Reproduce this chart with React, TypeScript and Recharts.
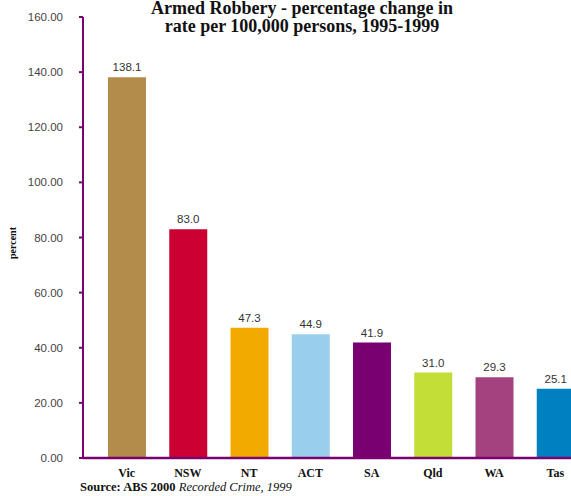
import React from "react";
import { BarChart, Bar, XAxis, YAxis, Cell, LabelList } from "recharts";

// Armed robbery: percentage change in rate per 100,000 persons, 1995-1999
const states = ["Vic", "NSW", "NT", "ACT", "SA", "Qld", "WA", "Tas"];
const changes = [138.1, 83.0, 47.3, 44.9, 41.9, 31.0, 29.3, 25.1];
const barColors = ["#B38B4A", "#CC0033", "#F2AA00", "#99CFEC", "#790071", "#C4DE38", "#A3427E", "#0080C0"];
const yTicks = [0, 20, 40, 60, 80, 100, 120, 140, 160];

const data = states.map((state, i) => ({ state, change: changes[i] }));

const AXIS = "#7A0070";
const SERIF = "'Liberation Serif', 'DejaVu Serif', serif";
const SANS = "'Liberation Sans', Arial, sans-serif";

const StateTick = (props: any) => {
  const { x, y, payload } = props;
  return (
    <text x={x} y={y + 11} textAnchor="middle" fontFamily={SERIF} fontWeight="bold" fontSize={12} fill="#111">
      {payload.value}
    </text>
  );
};

export default function App() {
  return (
    <div style={{ position: "absolute", left: 0, top: 0, width: 571, height: 496, overflow: "hidden", background: "#fff" }}>
      <BarChart
        width={600}
        height={496}
        data={data}
        margin={{ top: 17, right: 14, bottom: 8, left: 0 }}
      >
        <text x={302} y={14} textAnchor="middle" fontFamily={SERIF} fontWeight="bold" fontSize={18} fill="#111">
          Armed Robbery - percentage change in
        </text>
        <text x={302} y={32} textAnchor="middle" fontFamily={SERIF} fontWeight="bold" fontSize={18} fill="#111">
          rate per 100,000 persons, 1995-1999
        </text>
        <text
          x={16}
          y={243}
          transform="rotate(-90 16 243)"
          textAnchor="middle"
          fontFamily={SERIF}
          fontWeight="bold"
          fontSize={10}
          fill="#111"
        >
          percent
        </text>
        <text x={80} y={491} fontFamily={SERIF} fontSize={12.5} fill="#111">
          <tspan fontWeight="bold">Source: ABS 2000 </tspan>
          <tspan fontStyle="italic">Recorded Crime, 1999</tspan>
        </text>
        <XAxis
          dataKey="state"
          height={30}
          padding={{ left: 13, right: 0 }}
          axisLine={{ stroke: AXIS, strokeWidth: 2.5 }}
          tickLine={false}
          tick={<StateTick />}
          interval={0}
        />
        <YAxis
          width={83}
          domain={[0, 160]}
          ticks={yTicks}
          interval={0}
          axisLine={{ stroke: AXIS, strokeWidth: 2 }}
          tickLine={{ stroke: AXIS, strokeWidth: 2 }}
          tickSize={4}
          tickMargin={16}
          tickFormatter={(v: number) => v.toFixed(2)}
          tick={{ fontFamily: SANS, fontSize: 11.5, fill: "#444" }}
        />
        <Bar dataKey="change" barSize={38} isAnimationActive={false}>
          {data.map((d, i) => (
            <Cell key={d.state} fill={barColors[i]} />
          ))}
          <LabelList
            dataKey="change"
            position="top"
            offset={6}
            formatter={(v: number) => v.toFixed(1)}
            style={{ fontFamily: SANS, fontSize: 11.5, fill: "#333" }}
          />
        </Bar>
      </BarChart>
    </div>
  );
}
